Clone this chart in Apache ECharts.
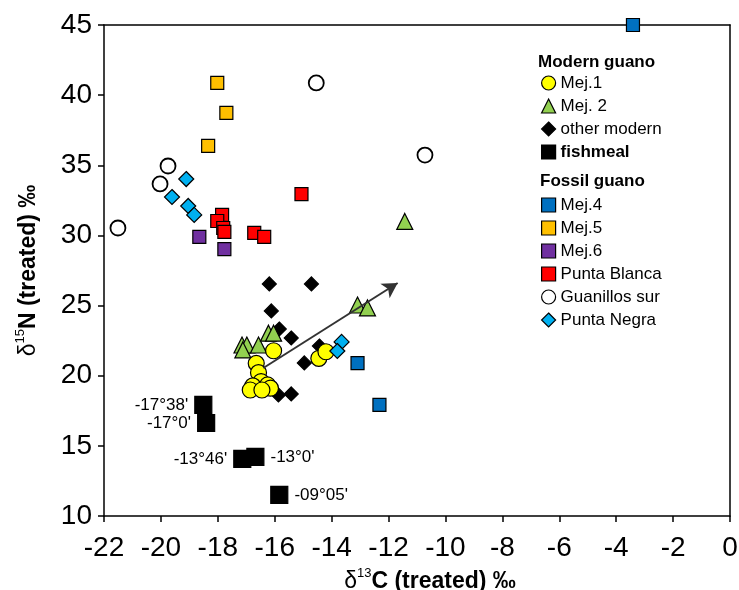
<!DOCTYPE html>
<html>
<head>
<meta charset="utf-8">
<script src="https://cdn.jsdelivr.net/npm/echarts@6/dist/echarts.min.js"></script>
<style>
  html, body { margin: 0; padding: 0; background: #fff; }
  #chart { width: 739px; height: 590px; }
</style>
</head>
<body>
<div id="chart"></div>
<script>
// values: [d13C, d15N]
const mej1 = [
  [-16.04, 21.78], [-16.65, 20.88], [-16.57, 20.22], [-16.48, 19.58], [-16.25, 19.34],
  [-16.15, 19.11], [-16.77, 19.27], [-16.86, 18.98], [-16.45, 18.98], [-14.45, 21.24],
  [-14.2, 21.71]
]
const mej2 = [
  [-17.15, 22.19], [-16.98, 22.19], [-17.12, 21.84], [-16.57, 22.19], [-16.22, 23.03],
  [-16.04, 23.03], [-13.09, 25.04], [-12.74, 24.83], [-11.43, 31.0]
]
const otherModern = [
  [-16.19, 26.54], [-14.71, 26.54], [-16.12, 24.62], [-15.84, 23.33], [-15.42, 22.69],
  [-14.43, 22.12], [-14.96, 20.91], [-15.87, 18.63], [-15.42, 18.7]
]
const fishmeal = [[-18.51, 17.92], [-18.41, 16.63], [-17.14, 14.07], [-16.68, 14.21], [-15.84, 11.5]]
const fishmealLabels = ["-17°38'", "-17°0'", "-13°46'", "-13°0'", "-09°05'"]
const fishmealLabelSide = ['left', 'left', 'left', 'right', 'right']

const mej4 = [[-3.41, 45], [-13.09, 20.9], [-12.32, 17.92]]
const mej5 = [[-18.02, 40.87], [-17.7, 38.73], [-18.34, 36.38]]
const mej6 = [[-18.65, 29.89], [-17.77, 29.03]]
const puntaBlanca = [
  [-15.06, 32.95], [-17.85, 31.46], [-18.02, 31.03], [-17.81, 30.53], [-17.77, 30.25],
  [-16.72, 30.18], [-16.37, 29.89]
]
const guanillosSur = [[-14.54, 40.87], [-19.75, 34.95], [-20.03, 33.67], [-21.51, 30.53], [-10.72, 35.73]]
const puntaNegra = [
  [-19.11, 34.02], [-19.61, 32.74], [-19.04, 32.1], [-18.83, 31.46], [-13.65, 22.41],
  [-13.8, 21.76]
]

const arrowStart = [-16.4, 20.55]
const arrowEnd = [-11.68, 26.61]

const xTicks = { min: -22, max: 0, interval: 2 }
const yTicks = { min: 10, max: 45, interval: 5 }

const modernNames = ['Mej.1', 'Mej. 2', 'other modern', 'fishmeal']
const fossilNames = ['Mej.4', 'Mej.5', 'Mej.6', 'Punta Blanca', 'Guanillos sur', 'Punta Negra']

const chart = echarts.init(document.getElementById('chart'))

const font = 'Liberation Sans, Arial, sans-serif'
const edge = { borderColor: '#000', borderWidth: 1.2, opacity: 1 }

function scatter(name, data, symbol, size, color, extra) {
  return Object.assign({
    type: 'scatter',
    name,
    data,
    symbol,
    symbolSize: size,
    clip: false,
    itemStyle: Object.assign({ color }, edge),
  }, extra || {})
}

const fishmealItems = fishmeal.map((p, i) => ({
  value: p,
  label: { position: fishmealLabelSide[i], formatter: fishmealLabels[i] },
}))

const axisTitleRich = {
  d: { fontFamily: font, fontSize: 23, color: '#000', lineHeight: 26, verticalAlign: 'bottom' },
  s: { fontFamily: font, fontSize: 13, color: '#000', lineHeight: 13, verticalAlign: 'top' },
  b: { fontFamily: font, fontSize: 23, fontWeight: 'bold', color: '#000', lineHeight: 26, verticalAlign: 'bottom' },
}

const legendBase = {
  orient: 'vertical',
  left: 536,
  itemWidth: 14,
  itemHeight: 14,
  itemGap: 3,
  itemStyle: edge,
  textStyle: { fontFamily: font, fontSize: 17, color: '#000', lineHeight: 20 },
}

const option = {
  animation: false,
  backgroundColor: '#fff',
  grid: { left: 104, right: 9, top: 25, bottom: 74, containLabel: false, outerBoundsMode: 'none' },
  legend: [
    Object.assign({}, legendBase, {
      top: 68,
      data: modernNames.map((n) =>
        n === 'fishmeal' ? { name: n, textStyle: { fontWeight: 'bold' } } : n),
    }),
    Object.assign({}, legendBase, { top: 190, data: fossilNames }),
  ],
  graphic: [
    { type: 'text', left: 538, top: 54, style: { text: 'Modern guano', font: 'bold 17px ' + font, fill: '#000' } },
    { type: 'text', left: 540, top: 173, style: { text: 'Fossil guano', font: 'bold 17px ' + font, fill: '#000' } },
  ],
  xAxis: [
    {
      type: 'value',
      min: xTicks.min, max: xTicks.max, interval: xTicks.interval,
      name: '{d|δ}{s|13}{b|C (treated) ‰}',
      nameLocation: 'middle',
      nameGap: 49,
      nameTextStyle: { rich: axisTitleRich, padding: [0, 0, 0, 26] },
      axisLine: { show: true, onZero: false, lineStyle: { color: '#000', width: 1.5 } },
      axisTick: { inside: false, length: 6, lineStyle: { color: '#000', width: 1.5 } },
      axisLabel: { fontFamily: font, fontSize: 28, color: '#000', margin: 18 },
      splitLine: { show: false },
    },
    {
      type: 'value', position: 'top',
      min: xTicks.min, max: xTicks.max, interval: xTicks.interval,
      axisLine: { show: true, onZero: false, lineStyle: { color: '#000', width: 1.5 } },
      axisTick: { show: false }, axisLabel: { show: false }, splitLine: { show: false },
    },
  ],
  yAxis: [
    {
      type: 'value',
      min: yTicks.min, max: yTicks.max, interval: yTicks.interval,
      name: '{d|δ}{s|15}{b|N (treated) ‰}',
      nameLocation: 'middle',
      nameRotate: 90,
      nameGap: 64,
      nameTextStyle: { rich: axisTitleRich },
      axisLine: { show: true, onZero: false, lineStyle: { color: '#000', width: 1.5 } },
      axisTick: { inside: false, length: 6, lineStyle: { color: '#000', width: 1.5 } },
      axisLabel: { fontFamily: font, fontSize: 28, color: '#000', margin: 12 },
      splitLine: { show: false },
    },
    {
      type: 'value', position: 'right',
      min: yTicks.min, max: yTicks.max, interval: yTicks.interval,
      axisLine: { show: true, onZero: false, lineStyle: { color: '#000', width: 1.5 } },
      axisTick: { show: false }, axisLabel: { show: false }, splitLine: { show: false },
    },
  ],
  series: [
    scatter('fishmeal', fishmealItems, 'rect', 17, '#000', {
      label: { show: true, fontFamily: font, fontSize: 17, color: '#000', distance: 6 },
    }),
    scatter('other modern', otherModern, 'diamond', 14, '#000'),
    scatter('Mej. 2', mej2, 'triangle', 16, '#92d050'),
    scatter('Mej.1', mej1, 'circle', 16, '#ffff00'),
    scatter('Mej.4', mej4, 'rect', 13, '#0070c0'),
    scatter('Mej.5', mej5, 'rect', 13, '#ffc000'),
    scatter('Mej.6', mej6, 'rect', 13, '#7030a0'),
    scatter('Punta Blanca', puntaBlanca, 'rect', 13, '#ff0000'),
    scatter('Guanillos sur', guanillosSur, 'circle', 15, '#fff', {
      itemStyle: { color: '#fff', borderColor: '#000', borderWidth: 1.8, opacity: 1 },
    }),
    scatter('Punta Negra', puntaNegra, 'diamond', 15, '#00b0f0'),
    {
      type: 'line',
      name: 'trend',
      data: [],
      markLine: {
        silent: true,
        symbol: ['none', 'arrow'],
        symbolSize: [13, 15],
        label: { show: false },
        lineStyle: { color: '#333', width: 2, type: 'solid' },
        data: [[{ coord: arrowStart }, { coord: arrowEnd }]],
      },
    },
  ],
}

chart.setOption(option)
window.addEventListener('resize', () => chart.resize())
</script>
</body>
</html>
